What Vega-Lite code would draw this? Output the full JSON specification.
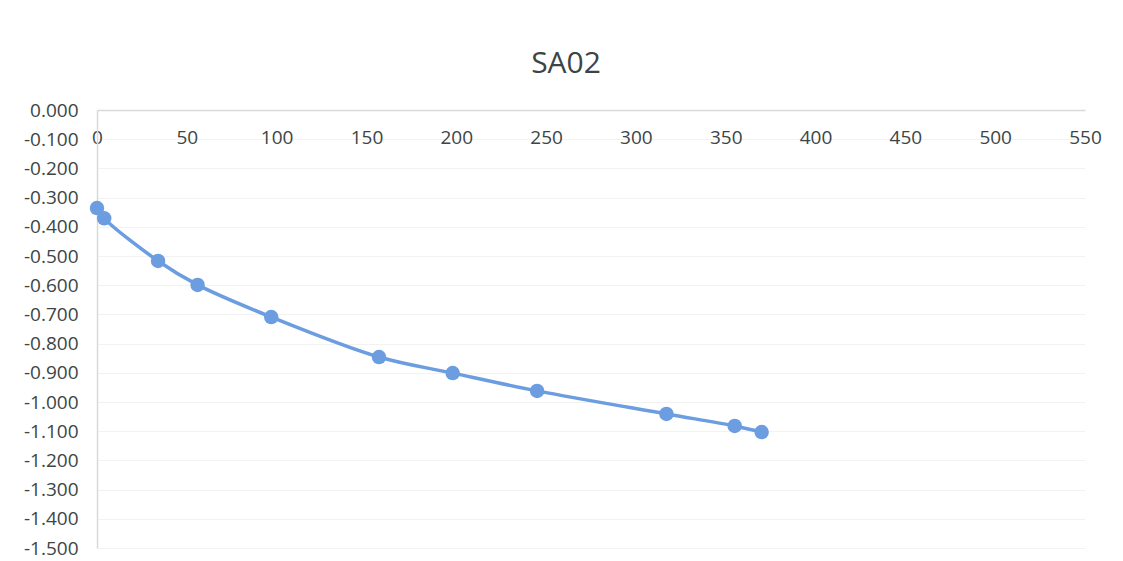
{
  "$schema": "https://vega.github.io/schema/vega-lite/v6.json",
  "autosize": "none",
  "padding": {"left": 97, "top": 110, "right": 38, "bottom": 13},
  "width": 988,
  "height": 438,
  "background": "white",
  "title": {
    "text": "SA02",
    "fontSize": 30,
    "font": "Open Sans",
    "fontWeight": "normal",
    "color": "#3c4444",
    "anchor": "middle",
    "frame": "group",
    "dx": -25,
    "offset": 22
  },
  "data": {
    "values": [
      {"x": 0, "y": -0.336},
      {"x": 4, "y": -0.371},
      {"x": 34, "y": -0.517},
      {"x": 56, "y": -0.599},
      {"x": 97, "y": -0.709},
      {"x": 157, "y": -0.846},
      {"x": 198, "y": -0.901},
      {"x": 245, "y": -0.962},
      {"x": 317, "y": -1.041},
      {"x": 355, "y": -1.082},
      {"x": 370, "y": -1.103}
    ]
  },
  "config": {
    "view": {"stroke": null},
    "axis": {
      "labelFont": "Open Sans",
      "labelFontSize": 19,
      "labelColor": "#3c4646",
      "domainColor": "#d9d9d9",
      "domainWidth": 1.5,
      "ticks": false,
      "title": null
    }
  },
  "encoding": {
    "x": {
      "field": "x",
      "type": "quantitative",
      "scale": {"domain": [0, 550], "nice": false, "zero": false},
      "axis": {
        "orient": "bottom",
        "offset": -438,
        "values": [0, 50, 100, 150, 200, 250, 300, 350, 400, 450, 500, 550],
        "grid": false,
        "labelPadding": 18,
        "labelFlush": false,
        "labelOverlap": false,
        "zindex": 0
      }
    },
    "y": {
      "field": "y",
      "type": "quantitative",
      "scale": {"domain": [-1.5, 0], "nice": false},
      "axis": {
        "values": [0, -0.1, -0.2, -0.3, -0.4, -0.5, -0.6, -0.7, -0.8, -0.9, -1.0, -1.1, -1.2, -1.3, -1.4, -1.5],
        "labelExpr": "replace(format(datum.value, '.3f'), '\u2212', '-')",
        "grid": true,
        "gridColor": "#f2f2f2",
        "gridWidth": 1,
        "labelPadding": 19,
        "labelFlush": false,
        "labelOverlap": false
      }
    }
  },
  "layer": [
    {
      "mark": {"type": "line", "interpolate": "catmull-rom", "color": "#6b9de0", "strokeWidth": 3.5}
    },
    {
      "mark": {"type": "circle", "color": "#6b9de0", "opacity": 1, "size": 210}
    }
  ]
}
